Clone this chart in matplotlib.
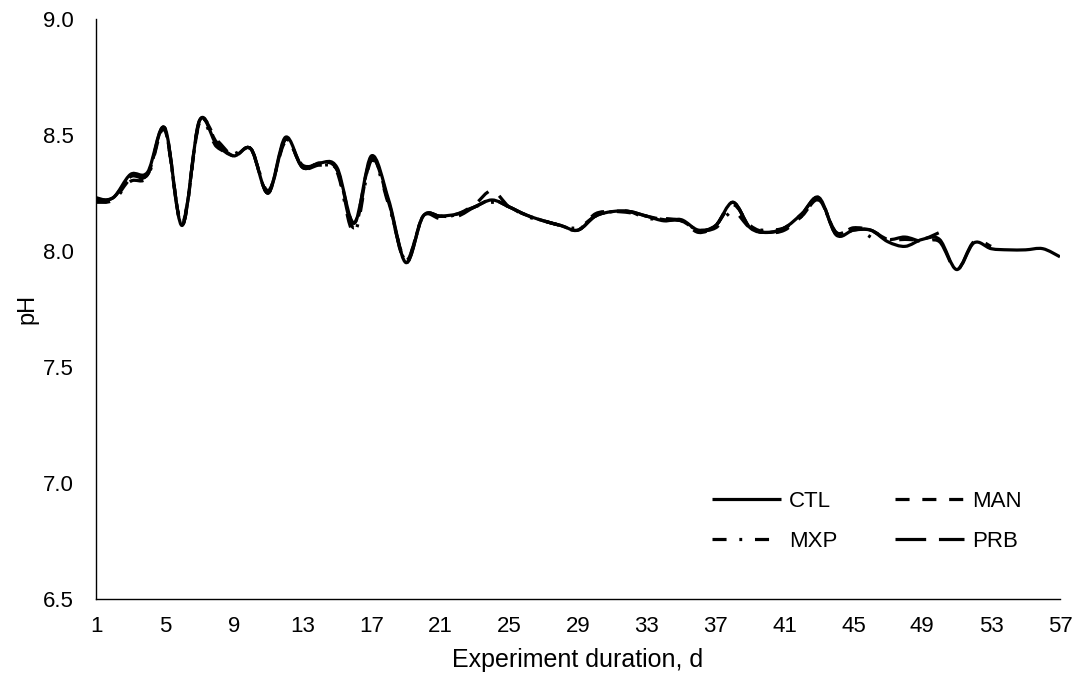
import numpy as np
import matplotlib
matplotlib.use("Agg")
import matplotlib.pyplot as plt
from matplotlib.path import Path
from matplotlib.patches import PathPatch
from matplotlib.lines import Line2D

plt.rcParams['font.family'] = ['Liberation Sans', 'DejaVu Sans']

days = list(range(1, 58))
CTL = [8.22, 8.23, 8.33, 8.34, 8.53, 8.11, 8.56, 8.46, 8.41, 8.44,
       8.25, 8.49, 8.36, 8.38, 8.36, 8.12, 8.41, 8.22, 7.95, 8.15,
       8.15, 8.16, 8.19, 8.22, 8.19, 8.155, 8.13, 8.11, 8.09, 8.15,
       8.17, 8.17, 8.15, 8.13, 8.135, 8.09, 8.11, 8.21, 8.10, 8.08,
       8.10, 8.16, 8.23, 8.07, 8.09, 8.09, 8.04, 8.02, 8.05, 8.05,
       7.92, 8.035, 8.01, 8.005, 8.005, 8.01, 7.975]
MAN = [8.21, 8.22, 8.31, 8.33, 8.52, 8.11, 8.55, 8.48, 8.41, 8.44,
       8.25, 8.48, 8.36, 8.37, 8.35, 8.12, 8.40, 8.21, 7.96, 8.15,
       8.15, 8.16, 8.20, 8.26, 8.19, 8.155, 8.13, 8.11, 8.09, 8.16,
       8.17, 8.165, 8.15, 8.135, 8.13, 8.08, 8.11, 8.20, 8.11, 8.08,
       8.09, 8.15, 8.22, 8.08, 8.10, 8.09, 8.05, 8.05, 8.05, 8.08]
MXP = [8.23, 8.22, 8.30, 8.32, 8.52, 8.12, 8.55, 8.45, 8.42, 8.44,
       8.26, 8.47, 8.37, 8.37, 8.34, 8.08, 8.39, 8.20, 7.96, 8.15,
       8.14, 8.16, 8.19, 8.21, 8.19, 8.15, 8.13, 8.11, 8.10, 8.15,
       8.17, 8.17, 8.14, 8.14, 8.13, 8.09, 8.10, 8.17, 8.10, 8.09,
       8.10, 8.15, 8.22, 8.08, 8.10, 8.06]
PRB = [8.22, 8.23, 8.32, 8.33, 8.53, 8.11, 8.56, 8.47, 8.41, 8.44,
       8.25, 8.48, 8.36, 8.38, 8.35, 8.10, 8.40, 8.21, 7.95, 8.15,
       8.15, 8.15, 8.19, 8.22, 8.19, 8.155, 8.13, 8.11, 8.09, 8.15,
       8.17, 8.17, 8.15, 8.135, 8.13, 8.09, 8.11, 8.21, 8.10, 8.08,
       8.10, 8.16, 8.23, 8.07, 8.09, 8.09, 8.05, 8.06, 8.04, 8.04,
       7.92, 8.04, 8.02]

series_names = ["CTL", "MAN", "MXP", "PRB"]
series_values = [CTL, MAN, MXP, PRB]
series_styles = [(0, ()), (0, (4.4, 4.0)), (0, (4.4, 4.0, 0.9, 4.0)), (0, (9.6, 4.0))]

x_ticks = list(range(1, 58, 4))
y_ticks = [6.5, 7.0, 7.5, 8.0, 8.5, 9.0]


def smooth_path(xs, ys, t=1.0 / 6.0):
    xs = np.asarray(xs, float)
    ys = np.asarray(ys, float)
    pts = np.column_stack([xs, ys])
    n = len(pts)
    verts = [pts[0]]
    codes = [Path.MOVETO]
    for i in range(n - 1):
        p0 = pts[i - 1] if i > 0 else pts[i]
        p1 = pts[i]
        p2 = pts[i + 1]
        p3 = pts[i + 2] if i + 2 < n else pts[i + 1]
        c1 = p1 + (p2 - p0) * t
        c2 = p2 - (p3 - p1) * t
        verts += [c1, c2, p2]
        codes += [Path.CURVE4] * 3
    return Path(verts, codes)


fig = plt.figure(figsize=(10.76, 6.82), dpi=100)
ax = fig.add_axes([96 / 1076, 83 / 682, (1060 - 96) / 1076, (599 - 19) / 682])

lw = 2.3
handles = {}
for name, vals, ls in zip(series_names, series_values, series_styles):
    d = days[:len(vals)]
    patch = PathPatch(smooth_path(d, vals), facecolor='none', edgecolor='black',
                      lw=lw, linestyle=ls, capstyle='butt', joinstyle='round')
    ax.add_patch(patch)
    handles[name] = Line2D([], [], color='black', lw=lw, linestyle=ls,
                           solid_capstyle='butt', dash_capstyle='butt', label=name)

ax.set_xlim(1, 57)
ax.set_ylim(6.5, 9.0)
ax.set_xticks(x_ticks)
ax.set_xticklabels([str(v) for v in x_ticks])
ax.set_yticks(y_ticks)
ax.set_yticklabels([f"{v:.1f}" for v in y_ticks])
ax.tick_params(axis='x', length=0, labelsize=16, pad=12)
ax.tick_params(axis='y', length=0, labelsize=16, pad=16)
for s in ['top', 'right']:
    ax.spines[s].set_visible(False)
for s in ['left', 'bottom']:
    ax.spines[s].set_color('black')
    ax.spines[s].set_linewidth(1.0)
ax.set_xlabel("Experiment duration, d", fontsize=18, labelpad=8)
ax.set_ylabel("pH", fontsize=17, labelpad=3)

order = ["CTL", "MXP", "MAN", "PRB"]
leg = fig.legend(handles=[handles[k] for k in order], ncol=2, frameon=False, fontsize=16,
                 handlelength=3.1, columnspacing=2.6, labelspacing=0.85,
                 handletextpad=0.36, borderpad=0, borderaxespad=0,
                 loc='upper left', bbox_to_anchor=(712 / 1076, 1 - 491 / 682))

fig.savefig("out.png", dpi=100)
